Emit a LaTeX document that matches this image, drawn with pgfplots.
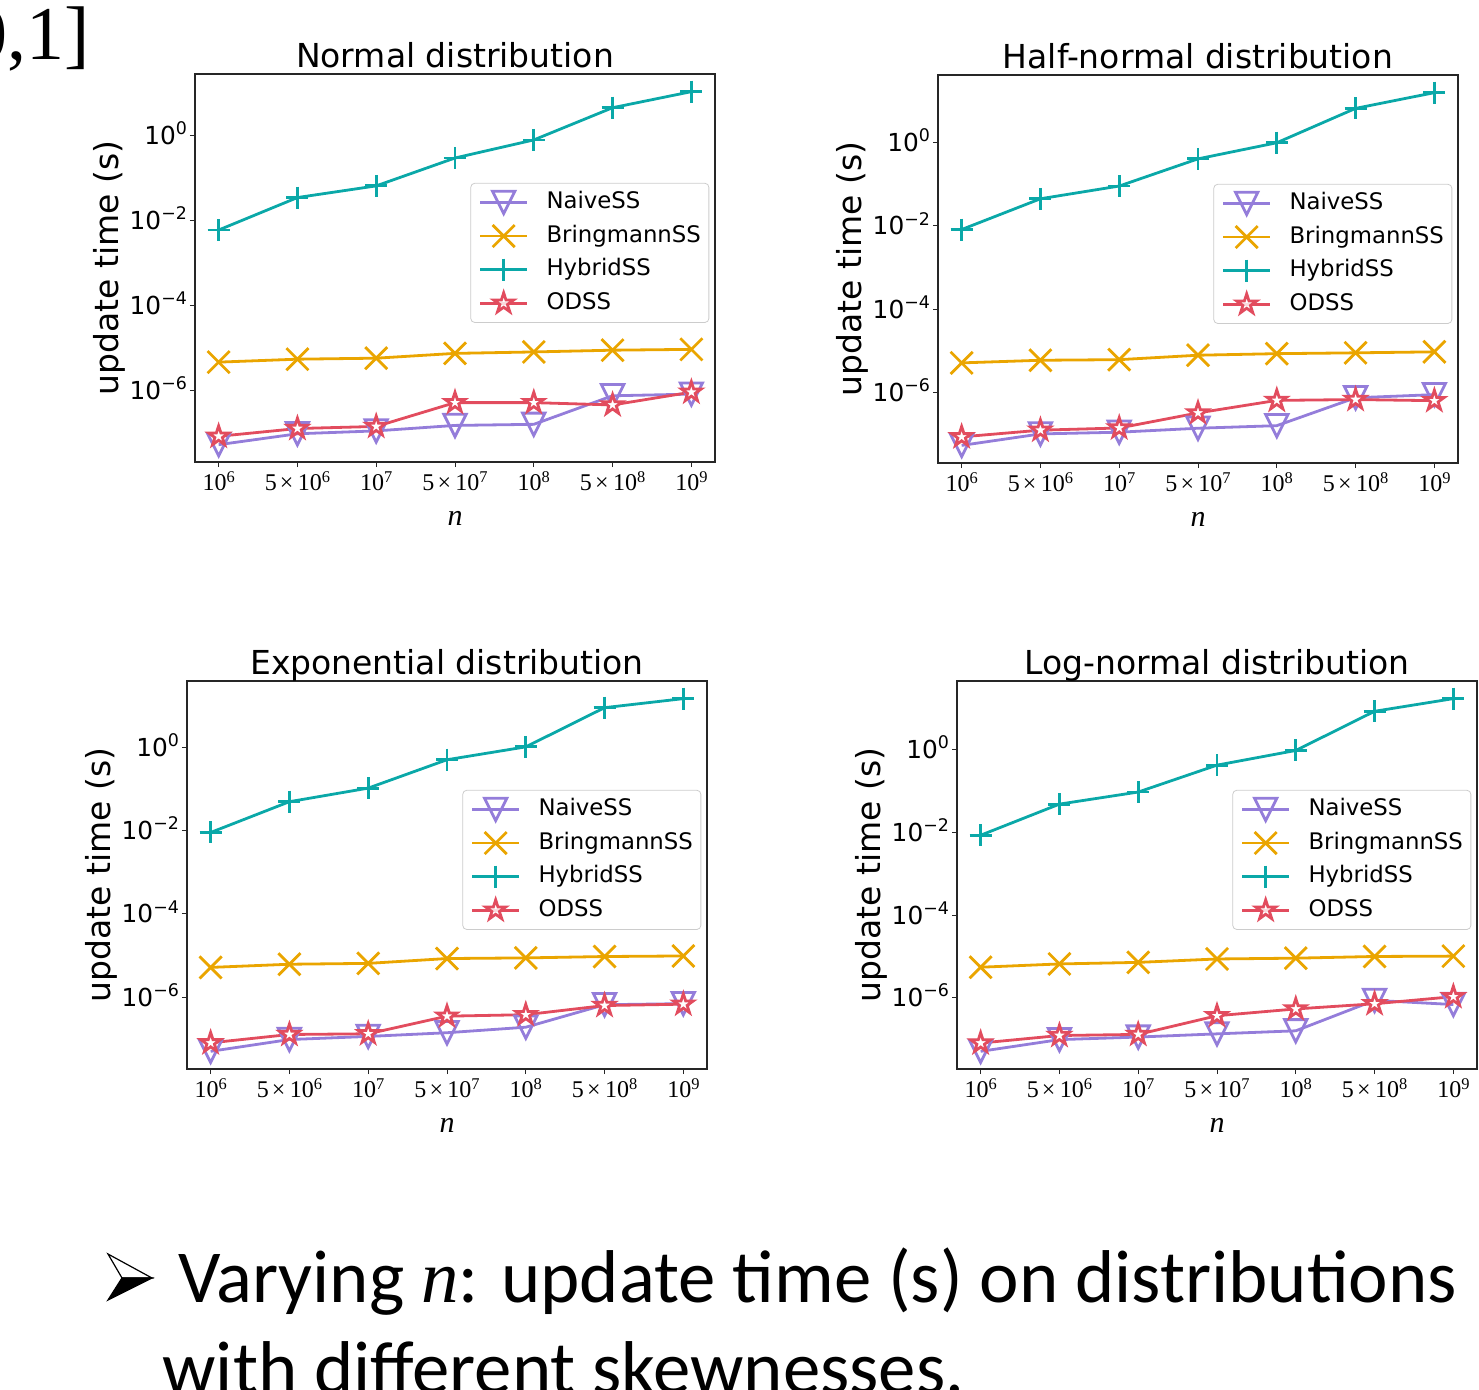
\documentclass[border=0pt]{standalone}
\usepackage{fontspec}
\setmainfont{DejaVu Sans}
\newfontfamily\tnr{Liberation Serif}
\newfontfamily\calibri{Carlito}
\usepackage{pgfplots}
\usepackage{pgfplotstable}
\pgfplotsset{compat=1.18}

\definecolor{cnaive}{RGB}{148,125,218}
\definecolor{cbring}{RGB}{234,165,0}
\definecolor{chybrid}{RGB}{10,168,168}
\definecolor{codss}{RGB}{226,76,94}

% downward triangle, as wide as it is tall
\pgfdeclareplotmark{vtri}{%
  \pgfpathmoveto{\pgfqpoint{0pt}{-\pgfplotmarksize}}%
  \pgfpathlineto{\pgfqpoint{-\pgfplotmarksize}{\pgfplotmarksize}}%
  \pgfpathlineto{\pgfqpoint{\pgfplotmarksize}{\pgfplotmarksize}}%
  \pgfpathclose\pgfusepathqstroke}
% open five-point star
\pgfdeclareplotmark{ostar}{%
  \pgfpathmoveto{\pgfpointpolar{90}{\pgfplotmarksize}}%
  \pgfpathlineto{\pgfpointpolar{126}{0.382\pgfplotmarksize}}%
  \pgfpathlineto{\pgfpointpolar{162}{\pgfplotmarksize}}%
  \pgfpathlineto{\pgfpointpolar{198}{0.382\pgfplotmarksize}}%
  \pgfpathlineto{\pgfpointpolar{234}{\pgfplotmarksize}}%
  \pgfpathlineto{\pgfpointpolar{270}{0.382\pgfplotmarksize}}%
  \pgfpathlineto{\pgfpointpolar{306}{\pgfplotmarksize}}%
  \pgfpathlineto{\pgfpointpolar{342}{0.382\pgfplotmarksize}}%
  \pgfpathlineto{\pgfpointpolar{18}{\pgfplotmarksize}}%
  \pgfpathlineto{\pgfpointpolar{54}{0.382\pgfplotmarksize}}%
  \pgfpathclose\pgfusepathqfillstroke}

% x tick labels are serif, y tick labels sans
\newcommand{\tpx}[1]{10\raisebox{0.32em}{\fontsize{8.2}{9}\selectfont #1}}
\newcommand{\tpy}[1]{10\raisebox{0.4em}{\fontsize{8.7}{9}\selectfont #1}}
\newcommand{\fx}{\kern1.6pt×\kern2.2pt}

% columns: x naive bring hybrid odss
\pgfplotstableread{
x naive bring hybrid odss
0 5.2e-8 4.6e-6 0.006 8.2e-8
1 9.4e-8 5.4e-6 0.035 1.25e-7
2 1.1e-7 5.7e-6 0.066 1.4e-7
3 1.48e-7 7.4e-6 0.30 5.1e-7
4 1.57e-7 8.0e-6 0.80 5.1e-7
5 7.4e-7 8.8e-6 4.6 4.5e-7
6 8.1e-7 9.2e-6 11 9.0e-7
}\normaldata
\pgfplotstableread{
x naive bring hybrid odss
0 5.3e-8 5.1e-6 0.0082 8.5e-8
1 1.0e-7 5.9e-6 0.045 1.23e-7
2 1.1e-7 6.1e-6 0.091 1.39e-7
3 1.37e-7 7.8e-6 0.41 3.2e-7
4 1.58e-7 8.5e-6 1.0 6.4e-7
5 7.4e-7 8.9e-6 6.7 6.7e-7
6 8.8e-7 9.4e-6 16 6.3e-7
}\halfdata
\pgfplotstableread{
x naive bring hybrid odss
0 5.0e-8 5.2e-6 0.0091 8.0e-8
1 9.6e-8 6.2e-6 0.050 1.27e-7
2 1.14e-7 6.5e-6 0.106 1.32e-7
3 1.4e-7 8.5e-6 0.51 3.5e-7
4 1.9e-7 8.8e-6 1.04 3.8e-7
5 6.6e-7 9.5e-6 9.1 6.3e-7
6 7.0e-7 9.8e-6 15 6.8e-7
}\expdata
\pgfplotstableread{
x naive bring hybrid odss
0 5.1e-8 5.5e-6 0.0085 8.1e-8
1 9.8e-8 6.6e-6 0.048 1.23e-7
2 1.13e-7 7.2e-6 0.094 1.31e-7
3 1.35e-7 8.7e-6 0.42 3.7e-7
4 1.6e-7 9.1e-6 0.95 5.4e-7
5 8.7e-7 1.0e-5 8.4 7.2e-7
6 6.9e-7 1.02e-5 17 1.07e-6
}\lognormdata

\pgfplotsset{
  snaive/.style={color=cnaive, line width=1.4pt, mark=vtri, mark size=5.6pt},
  sbring/.style={color=cbring, line width=1.4pt, mark=x, mark size=7.8pt},
  shybrid/.style={color=chybrid, line width=1.4pt, mark=+, mark size=5.5pt},
  sodss/.style={color=codss, line width=1.4pt, mark=ostar, mark size=5.2pt, mark options={fill=white}},
  panel/.style={
    width=260pt, height=194pt, scale only axis,
    xmin=-0.3, xmax=6.3, xtick={0,...,6},
    xticklabels={{\tpx{6}},{5\fx\tpx{6}},{\tpx{7}},{5\fx\tpx{7}},{\tpx{8}},{5\fx\tpx{8}},{\tpx{9}}},
    ytick={1e-6,1e-4,1e-2,1},
    yticklabels={{\tpy{−6}},{\tpy{−4}},{\tpy{−2}},{\tpy{0}}},
    yminorticks=false,
    tick pos=left, tick align=outside, major tick length=2.5pt,
    tick style={black!85, line width=0.5pt},
    axis line style={black!85, line width=0.6pt},
    xticklabel style={font=\tnr\fontsize{12}{14}\selectfont, yshift=1pt},
    yticklabel style={font=\fontsize{12.4}{14}\selectfont, anchor=base east, yshift=-4.5pt, xshift=2pt},
    title style={at={(0.5,1)}, anchor=base, yshift=-2.5pt, font=\fontsize{16.5}{19}\selectfont},
    xlabel={n},
    xlabel style={at={(axis description cs:0.5,0)}, anchor=base, yshift=-31.5pt, font=\tnr\itshape\fontsize{15}{18}\selectfont},
    ylabel={update time (s)},
    ylabel style={at={(axis description cs:-0.148,0.5)}, anchor=base, font=\fontsize{16.5}{19}\selectfont},
    legend entries={NaiveSS,BringmannSS,HybridSS,ODSS},
    legend cell align=left,
    legend image code/.code={\draw[sharp corners, mark repeat=2, mark phase=2, ##1] plot coordinates {(0pt,0pt) (11.75pt,0pt) (23.5pt,0pt)};},
    legend style={at={(0.989,0.539)}, anchor=east, draw=black!20, rounded corners=2pt,
      fill=white, fill opacity=0.8, text opacity=1,
      font=\fontsize{11.4}{13}\selectfont, inner xsep=4pt, inner ysep=4pt,
      row sep=5.6pt, column sep=9pt,
      nodes={inner sep=0pt, text height=8.6pt, text depth=2.6pt}},
  },
}

\begin{document}
\begin{tikzpicture}
\useasboundingbox (0,0) rectangle (739.5pt,-695pt);
\node[anchor=base east, inner sep=0pt, font=\tnr\fontsize{38}{44}\selectfont] at (45pt,-30pt) {[0,1]};

\begin{axis}[ymode=log, panel, at={(97.5pt,-231pt)}, anchor=south west,
  title={Normal distribution}, ymin=2.03e-8, ymax=28.7]
\addplot[snaive] table[x=x, y=naive] {\normaldata};
\addplot[sbring] table[x=x, y=bring] {\normaldata};
\addplot[shybrid] table[x=x, y=hybrid] {\normaldata};
\addplot[sodss] table[x=x, y=odss] {\normaldata};
\end{axis}

\begin{axis}[ymode=log, panel, at={(469pt,-231.5pt)}, anchor=south west,
  title={Half-normal distribution}, ymin=2.0e-8, ymax=42.5]
\addplot[snaive] table[x=x, y=naive] {\halfdata};
\addplot[sbring] table[x=x, y=bring] {\halfdata};
\addplot[shybrid] table[x=x, y=hybrid] {\halfdata};
\addplot[sodss] table[x=x, y=odss] {\halfdata};
\end{axis}

\begin{axis}[ymode=log, panel, at={(93.5pt,-534.5pt)}, anchor=south west,
  title={Exponential distribution}, ymin=1.88e-8, ymax=39.8]
\addplot[snaive] table[x=x, y=naive] {\expdata};
\addplot[sbring] table[x=x, y=bring] {\expdata};
\addplot[shybrid] table[x=x, y=hybrid] {\expdata};
\addplot[sodss] table[x=x, y=odss] {\expdata};
\end{axis}

\begin{axis}[ymode=log, panel, at={(478.5pt,-534.5pt)}, anchor=south west,
  title={Log-normal distribution}, ymin=1.91e-8, ymax=45.3]
\addplot[snaive] table[x=x, y=naive] {\lognormdata};
\addplot[sbring] table[x=x, y=bring] {\lognormdata};
\addplot[shybrid] table[x=x, y=hybrid] {\lognormdata};
\addplot[sodss] table[x=x, y=odss] {\lognormdata};
\end{axis}

% slide bullet: a lit arrowhead, white above and black below
\draw[line width=0.6pt, line join=miter, fill=white] (54pt,-627pt) -- (76pt,-639pt) -- (61pt,-639pt) -- cycle;
\draw[line width=0.6pt, line join=miter, fill=black] (61pt,-639pt) -- (76pt,-639pt) -- (54pt,-650pt) -- cycle;
\node[anchor=base west, inner sep=0pt, font=\calibri\fontsize{37.4}{44}\selectfont] at (89pt,-651pt)
  {Varying {\tnr\itshape n}: update time (s) on distributions};
\node[anchor=base west, inner sep=0pt, font=\calibri\fontsize{37.4}{44}\selectfont] at (81pt,-696.5pt)
  {with different skewnesses.};
\end{tikzpicture}
\end{document}
